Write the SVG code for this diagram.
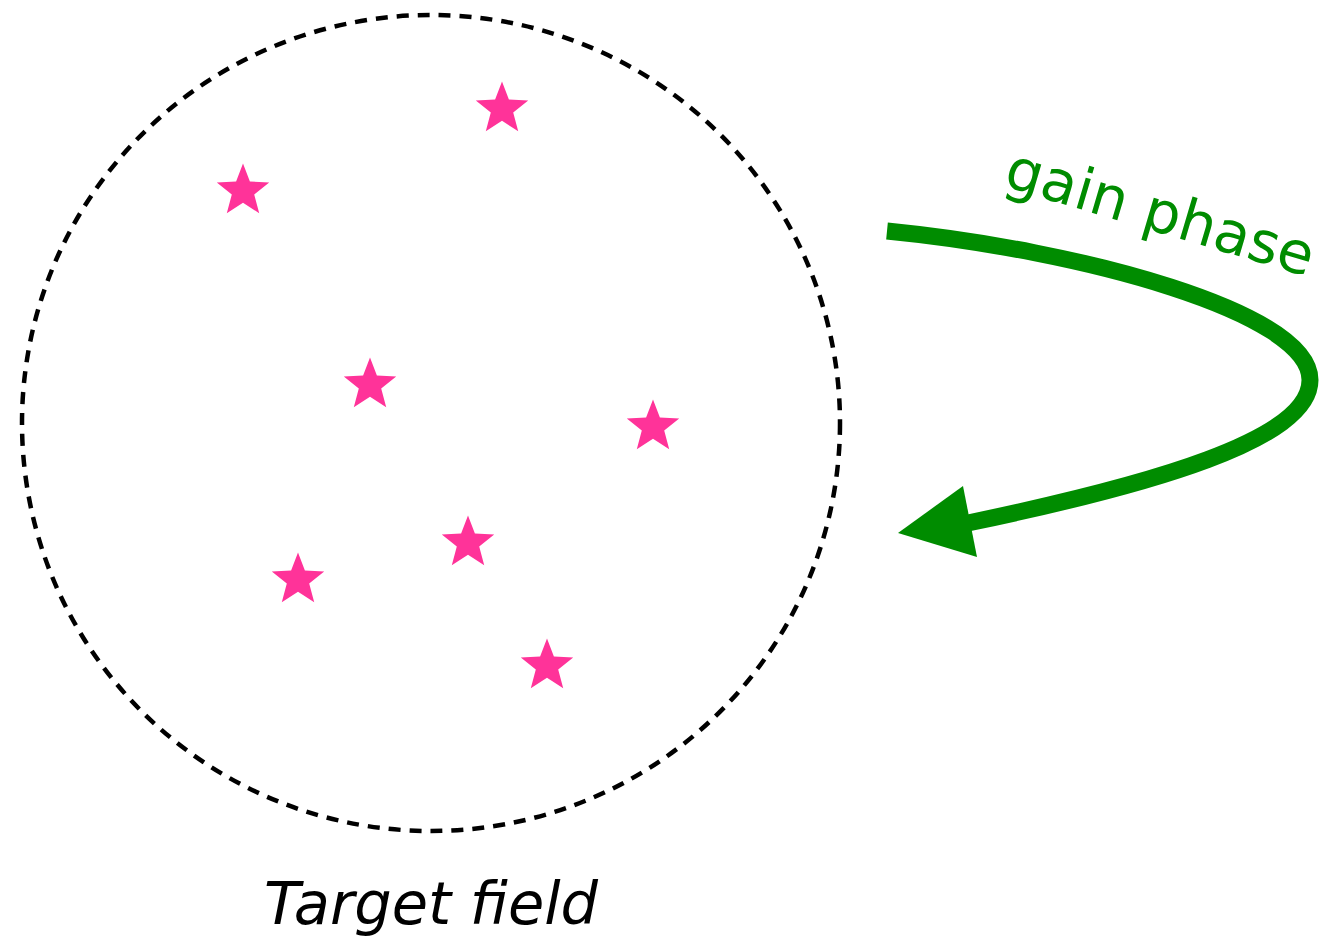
<svg xmlns="http://www.w3.org/2000/svg" width="1321" height="939" viewBox="0 0 1321 939">
<style>
.star{fill:#ff3399}
.lbl{font-family:"DejaVu Sans",Verdana,sans-serif}
</style>
<defs>
<polygon id="st" points="0,-27.5 6.9,-9.5 26.2,-8.5 11.2,3.6 16.2,22.2 0,11.8 -16.2,22.2 -11.2,3.6 -26.2,-8.5 -6.9,-9.5"/>
</defs>
<rect width="1321" height="939" fill="#fff"/>
<g id="field">
<ellipse cx="431" cy="423" rx="409" ry="408" fill="none" stroke="#000" stroke-width="4.5" stroke-dasharray="12,9"/>
</g>
<g id="stars" class="star">
<use href="#st" x="502" y="109"/>
<use href="#st" x="243" y="191"/>
<use href="#st" x="370" y="385"/>
<use href="#st" x="653" y="427"/>
<use href="#st" x="468" y="543"/>
<use href="#st" x="298" y="580"/>
<use href="#st" x="547" y="666"/>
</g>
<g id="connectors">
<path d="M887,231 C1080,250 1310,312 1310,380 C1310,440 1150,485 968,523" fill="none" stroke="#008c00" stroke-width="17"/>
<polygon points="898,533 963,486 977,557" fill="#008c00"/>
</g>
<text class="lbl" x="0" y="0" font-size="58" fill="#008c00" transform="translate(1002,186) rotate(16.5)">gain phase</text>
<text class="lbl" x="431" y="924" font-size="59" font-style="italic" text-anchor="middle" fill="#000">Target field</text>
</svg>
